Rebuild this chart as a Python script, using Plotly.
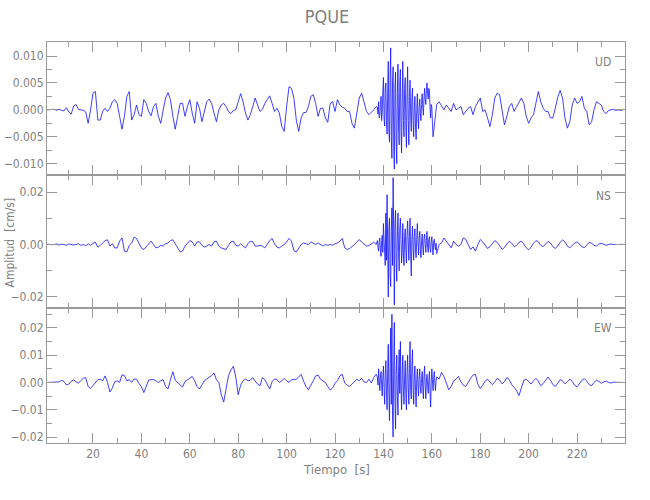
import plotly.graph_objects as go
from plotly.subplots import make_subplots

# ---------------- data (amplitudes in 1e-3 cm/s) ----------------
t_pre = list(range(1, 138))                        # 1 s samples, 1..137
t_burst = [137.5 + 0.25 * k for k in range(99)]    # 0.25 s samples, 137.5..162
t_post = list(range(163, 240))                     # 1 s samples, 163..239

ud_pre = [0, 0, 0, 0.1, -0.1, 0.1, -0.1, -0.2, 0.4, -0.4,
          -0.8, 0.7, 1.0, 0.1, 0, -0.1, -0.4, -2.5, 0, 3.1,
          3.4, -1.9, -1.9, -0.3, 0.3, -0.3, 0.3, 1.5, 1.9, 1.2,
          -1.2, -3.6, -1.2, 2.5, 3.4, -1.9, -0.9, 0.9, -0.9, -1.2,
          1.9, 1.2, -0.3, -1.1, 0.6, 1.2, -1.2, -2.5, 0, 2.2,
          3.2, 1.9, -1.2, -3.6, -1.2, 1.2, 1.2, -1.2, 0.6, 1.9,
          -0.6, -2.5, 1.5, 0.3, -2.2, -0.6, 1.5, 2.0, 1.2, -0.6,
          -2.2, 0, 0.9, 1.2, 0.6, -0.3, -0.7, -0.1, 0, 1.5,
          3.0, 1.5, -0.6, -1.9, -0.9, 0.6, 2.2, 0.9, -0.3, 0.1,
          1.2, 1.9, 2.6, 1.2, -0.3, 0.3, -0.6, -3.1, -4.0, 0.6,
          4.3, 4.0, 2.2, -1.9, -4.0, -1.5, -0.5, -0.5, 0.6, 2.5,
          2.8, 1.2, -1.2, 0.3, 0.3, -1.5, -2.3, 1.2, 1.5, -0.3,
          1.9, 0.9, 0.5, 0.3, -0.3, -0.3, -2.5, -3.4, -0.9, 2.2,
          3.1, 1.5, -0.3, -0.9, -0.5, 0, 0.6]
ud_burst = [0.5, -0.8,
            1.5, -1.5, -1.0, 1.0,
            2.5, -2.0, -0.5, 3.5,
            6.0, -1.5, -3.0, 4.0,
            5.0, -2.0, -4.5, 3.0,
            9.0, -4.0, -6.0, 6.0,
            11.5, -5.0, -9.0, 5.0,
            8.0, -7.0, -11.0, 4.0,
            7.0, -6.0, -10.0, 3.0,
            8.5, -3.0, -6.5, 5.0,
            7.5, -4.0, -8.0, 2.0,
            9.0, -2.0, -5.0, 4.0,
            6.0, -3.0, -7.0, 3.0,
            8.0, -2.0, -6.5, 2.5,
            5.5, -1.0, -4.0, 2.0,
            4.0, -2.0, -5.0, 0.5,
            2.5, -3.0, -5.5, 0.0,
            3.0, -1.0, -3.5, 0.5,
            2.0, -0.5, -2.0, 1.0,
            3.0, 0.5, -1.0, 2.0,
            4.0, 2.0, 1.0, 3.5,
            5.0, 3.0, 2.0, 4.0,
            3.5, 0.5, -1.5, 1.0,
            0.5, -2.5, -5.0, -4.0,
            -3.0, -1.5, -0.5, 0.3,
            1.0]
ud_post = [1.5, 0.6, 0, 0.9, 0.3, -0.3, 1.2, 0, 0.3, 0.6,
           -0.9, -0.3, 0.3, 0.6, -0.9, 0.6, 1.5, 2.2, -0.3, 0,
           -1.5, -3.1, -0.9, 2.2, 3.1, 2.8, 0, -2.8, -1.2, 0.6,
           1.2, -0.3, 0.6, 1.5, 2.2, 1.2, -1.2, -2.5, -1.5, -0.9,
           1.2, 3.4, 1.5, 0.3, -0.3, -0.3, -1.5, -1.5, 0.3, 2.3,
           3.6, 2.2, -1.5, -3.4, -2.2, 0.9, 2.2, 1.2, 1.5, 2.5,
           0.3, -0.3, -2.8, -2.2, 0, 1.5, 1.2, 0.9, -0.3, -0.7,
           -0.1, 0, 0.1, -0.1, 0, -0.1, 0]

ns_pre = [0, 0.1, -0.1, 0, 0.2, -0.2, 0.1, 0, -0.3, 0.2,
          0, -0.2, 0, 0.3, -0.3, 0, -0.5, 0.3, -0.3, 0.5,
          0.8, -1.0, -0.3, 0.6, 1.5, 1.8, -0.6, 0.3, -1.3, -1.3,
          1.3, 2.5, -2.5, -2.8, -0.3, 0.6, 2.8, 2.3, 0.3, -1.3,
          -1.9, -0.8, 0.6, 1.3, 0, -1.3, -1.0, -0.3, -0.6, 0.3,
          0.6, 1.5, 1.8, 0, -1.3, -2.8, -2.5, -0.6, 0.6, 1.5,
          1.0, -0.6, 1.0, 1.0, -0.3, -1.0, -0.6, 0, -0.6, 1.0,
          1.3, -0.6, -1.3, -1.5, -1.9, -0.3, 1.0, 1.3, -0.3, -0.6,
          0.3, -0.6, -1.3, 0.3, 1.3, 1.0, -0.6, -0.6, -0.3, -0.6,
          -1.3, 0, 1.5, 2.3, 0.3, -1.0, -1.3, -0.6, 0, 1.0,
          2.3, 1.3, -2.3, -2.8, -1.3, 0, 0.6, 0.3, 0, 1.0,
          0.6, 0, 0.6, 0, -0.6, 0, -0.3, 0, -0.3, 0.3,
          0.6, 1.3, 2.3, -1.3, -1.9, -1.6, -0.9, 0, 0.9, 1.9,
          0.9, 0, -0.6, -0.4, 0.4, 0.9, 0]
ns_burst = [1.5, -1.0,
            -2.5, 1.0, 2.5, -2.0,
            -4.5, 1.5, 3.5, -3.0,
            8.0, 2.0, -5.0, -8.0,
            12.0, -6.0, 19.0, -10.0,
            -20.0, 6.0, 10.0, -12.0,
            -16.0, 5.0, 14.0, -8.0,
            25.5, 4.0, -23.0, 8.0,
            13.0, -6.0, -14.0, 4.0,
            12.0, -3.0, -10.0, 6.0,
            10.0, 2.0, -7.0, -3.0,
            8.0, -4.0, -8.0, 3.0,
            6.0, -2.0, -7.0, 4.0,
            9.0, 1.0, -6.0, 3.0,
            10.0, -4.0, -12.0, 2.0,
            7.0, -1.0, -6.0, 3.0,
            6.0, -2.0, -5.0, 2.0,
            8.0, 1.0, -4.0, 2.0,
            5.0, -2.0, -5.0, 1.0,
            4.0, -1.0, -4.0, 2.0,
            4.0, 0.5, -3.0, 1.5,
            5.0, -1.0, -3.0, 2.0,
            3.0, -1.5, -3.0, 1.0,
            3.0, -1.0, -4.0, 1.0,
            2.0, -0.5, -2.0, 0.5,
            -3.5]
ns_post = [0, 0.6, 2.5, 1.3, 0, -1.3, 1.3, 0, -0.6, 0,
           2.5, 1.9, 0, -1.9, -0.9, -2.5, 0, 1.9, 1.0, -0.5,
           -1.5, -0.8, 0.6, 1.5, 0.8, -0.6, -1.8, -1.2, 0.3, 1.2,
           0.5, -0.8, -0.3, 0.8, 1.3, 0.2, -1.3, -2.0, -1.0, 0.5,
           1.5, 1.0, -0.3, -0.8, 0.3, 1.2, 0.6, -0.8, -1.5, -0.6,
           0.8, 1.8, 1.0, -0.6, -1.3, -0.4, 0.6, 1.0, 0.2, -0.8,
           -1.2, -0.3, 0.8, 0.5, -0.3, -0.6, 0.2, 0.5, 0.1, -0.3,
           0, 0.2, 0, -0.1, 0, 0.1, 0]

ew_pre = [0, 0, 0, 0, 0, 0.2, 0.8, 0.4, -0.9, -0.6,
          0.4, 1.0, 0.2, -0.3, 0.7, 1.5, 1.8, -1.5, -2.2, -1.0,
          0, 1.0, 1.2, 0.6, 2.4, 0, -3.5, -2.0, 0.3, 0.6,
          0, 2.8, 2.5, 0.6, 1.0, 0, 1.3, 1.2, -0.4, -1.5,
          -3.7, -1.0, 0.9, 1.0, 1.1, 0.6, 0, 0.6, 1.0, -1.5,
          -2.4, 1.0, 3.9, 0.8, 0, -0.6, -1.7, 0.3, 1.0, 1.5,
          2.2, 0.6, -1.5, -2.4, -0.6, 0.6, 1.3, 1.8, 2.5, 3.5,
          1.0, 0, -4.5, -7.2, -2.0, 2.5, 4.6, 5.9, 2.0, -4.5,
          -1.0, 0.6, 1.3, 0.6, 0.8, 1.8, 0.5, -0.6, -1.2, 1.8,
          1.0, -1.0, -2.4, 0.3, 1.3, 1.0, 0, 0.6, 1.5, 0.6,
          0, 1.0, 1.2, 1.2, 2.0, 3.0, 0.5, -1.5, -2.7, -1.2,
          0.6, 2.4, 2.7, 1.2, 0.6, 0, -1.5, -2.8, -2.0, -0.3,
          0.6, 2.4, 3.0, -0.2, -1.0, -1.5, -0.6, 0.2, 1.2, 0.6,
          1.5, 0.2, 0, 1.2, -0.2, 1.8, 3.0]
ew_burst = [2.0, -1.0,
            5.0, 1.0, -3.0, 1.5,
            4.0, -1.0, -5.0, 2.0,
            6.0, -2.0, -8.0, 3.0,
            8.0, -3.0, -10.0, 5.0,
            14.0, -4.0, -14.0, 6.0,
            20.0, -8.0, 25.0, -12.0,
            -20.0, 8.0, 22.0, -6.0,
            -17.0, 3.0, 10.0, -5.0,
            -12.0, 4.0, 12.0, -4.0,
            15.0, -2.0, -10.0, 3.0,
            10.0, -3.0, -8.0, 2.0,
            8.0, -4.0, -10.0, 4.0,
            10.0, -2.0, -8.0, 5.0,
            15.0, -3.0, -6.0, 6.0,
            12.0, -2.0, -8.0, 2.0,
            6.0, -3.0, -9.0, 1.0,
            5.0, -1.0, -5.0, 2.0,
            5.0, -1.5, -4.0, 1.0,
            4.0, -2.0, -6.0, 2.0,
            6.0, -1.0, -6.0, 0.5,
            3.0, -1.0, -4.0, 1.0,
            4.0, -3.0, -9.0, 0.0,
            5.0, 1.0, -3.0, 1.5,
            4.0, 0.0, -3.0, 0.5,
            2.0]
ew_post = [1.2, 3.7, 2.2, -0.6, -2.7, -1.5, 0.6, 1.2, 2.2, 0.2,
           -1.0, -1.5, 0.2, 1.5, 2.7, 3.0, -0.6, -2.2, -1.0, 0.5,
           1.2, 0.3, -0.8, 0.2, 1.5, 0.8, -0.5, 0.3, 1.8, 1.0,
           -0.8, -1.8, -3.0, -4.8, -2.0, 0.8, 1.2, 0.3, -0.6, 0.6,
           1.5, 0.5, -1.2, -0.4, 1.0, 2.0, 0.8, -0.8, -1.5, -0.3,
           1.0, 0.6, -0.5, 0.3, 1.2, 0.4, -1.0, -1.6, -0.5, 0.8,
           1.4, 0.5, -0.8, -1.2, 0, 0.8, 0.4, -0.3, 0.2, 0.5,
           0, -0.2, 0.1, 0, 0, 0, 0]

components = ["UD", "NS", "EW"]
x_ticks = [20, 40, 60, 80, 100, 120, 140, 160, 180, 200, 220]
title_text = "PQUE"
x_title = "Tiempo  [s]"
y_title = "Amplitud  [cm/s]"

# ---------------- figure ----------------
t_all = t_pre + t_burst + t_post
series = {
    "UD": [v * 1e-3 for v in ud_pre + ud_burst + ud_post],
    "NS": [v * 1e-3 for v in ns_pre + ns_burst + ns_post],
    "EW": [v * 1e-3 for v in ew_pre + ew_burst + ew_post],
}

FONT = "Liberation Sans Narrow, DejaVu Sans Condensed, Liberation Sans, sans-serif"
GRAY = "#7f7f7f"
AX = "#9a9a9a"

fig = make_subplots(rows=3, cols=1, shared_xaxes=True, vertical_spacing=0)
for i, c in enumerate(components):
    fig.add_trace(go.Scatter(x=t_all, y=series[c], mode="lines",
                             line=dict(color="#1010ff", width=0.8),
                             showlegend=False, hoverinfo="skip"),
                  row=i + 1, col=1)

H = 401.0
W = 578.0
domains = [[(135 + 133) / H, 1.0], [135 / H, (135 + 133) / H], [0.0, 135 / H]]
yranges = [[-0.0121, 0.0126], [-0.0242, 0.0265], [-0.0222, 0.0273]]
ydticks = [0.005, 0.02, 0.01]
yminor = [0.0025, 0.01, 0.005]
yfmt = [".3f", ".2f", ".2f"]

for i in range(3):
    fig.update_yaxes(row=i + 1, col=1, domain=domains[i], range=yranges[i],
                     dtick=ydticks[i], tick0=0, tickformat=yfmt[i],
                     ticks="inside", ticklen=10, tickcolor=AX, tickwidth=1,
                     minor=dict(ticks="inside", ticklen=5, dtick=yminor[i],
                                tick0=0, tickcolor=AX),
                     showline=True, linecolor=AX, linewidth=1, mirror="allticks",
                     showgrid=False, zeroline=False, automargin=False,
                     tickfont=dict(family=FONT, size=12, color=GRAY))
    fig.update_xaxes(row=i + 1, col=1, range=[1, 239.8],
                     tickvals=x_ticks,
                     ticks="inside", ticklen=10, tickcolor=AX, tickwidth=1,
                     minor=dict(ticks="inside", ticklen=5, dtick=10, tick0=0,
                                tickcolor=AX),
                     showline=True, linecolor=AX, linewidth=1, mirror="allticks",
                     showgrid=False, zeroline=False, automargin=False,
                     showticklabels=(i == 2),
                     tickfont=dict(family=FONT, size=12, color=GRAY))

label_y = [62, 196, 328]
for c, yy in zip(components, label_y):
    fig.add_annotation(text=c, xref="paper", yref="paper",
                       x=(603 - 47) / W, y=1 - (yy - 42) / H,
                       showarrow=False, xanchor="center", yanchor="middle",
                       font=dict(family=FONT, size=12, color=GRAY))

fig.add_annotation(text=y_title, xref="paper", yref="paper",
                   x=(9 - 47) / W, y=0.5, textangle=-90,
                   showarrow=False, xanchor="center", yanchor="middle",
                   font=dict(family=FONT, size=12, color=GRAY))
fig.add_annotation(text=x_title, xref="paper", yref="paper",
                   x=(336 - 47) / W, y=-(470 - 443) / H,
                   showarrow=False, xanchor="center", yanchor="middle",
                   font=dict(family=FONT, size=13, color=GRAY))

fig.update_layout(
    width=650, height=500,
    margin=dict(l=47, r=25, t=42, b=57, autoexpand=False),
    paper_bgcolor="white", plot_bgcolor="white",
    hovermode=False,
    title=dict(text=title_text, x=327 / 650, xanchor="center",
               y=1 - 17 / 500, yanchor="middle", automargin=False,
               font=dict(family=FONT, size=18, color=GRAY)),
)

# remove the default page margin so the figure sits at the window's corner
fig.write_html("out.html",
               config={"displayModeBar": False},
               post_script="document.body.style.margin='0';")
